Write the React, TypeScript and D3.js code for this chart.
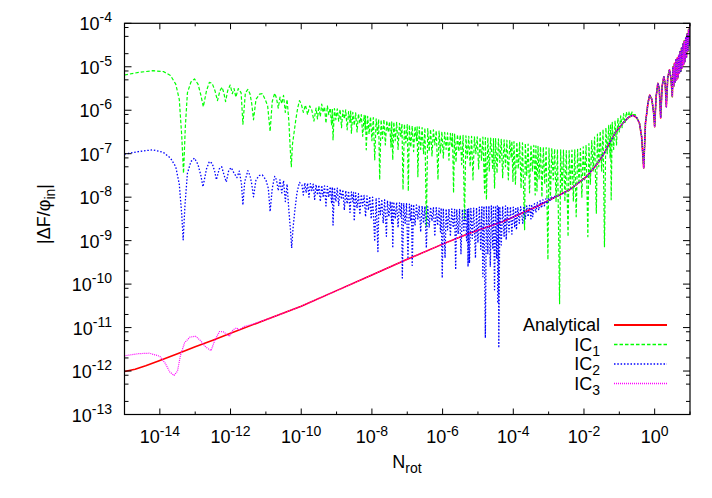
import React, { useRef, useEffect } from "react";
import * as d3 from "d3";

// every point is [log10 N_rot, log10 |dF/phi_in|]
type Pt = [number, number];

const analytical: Pt[] = [
  [-15.0, -12.01], [-14.7, -11.96], [-14.4, -11.88], [-14.0, -11.76], [-13.5, -11.6], [-13.0, -11.44],
  [-12.5, -11.29], [-12.0, -11.13], [-11.0, -10.82], [-10.0, -10.51], [-9.0, -10.15], [-8.0, -9.79],
  [-7.0, -9.43], [-6.0, -9.08], [-5.24, -8.83], [-4.29, -8.56], [-3.35, -8.22], [-2.41, -7.83],
  [-1.93, -7.53], [-1.65, -7.26], [-1.45, -7.02], [-1.28, -6.76], [-1.1, -6.5], [-0.9, -6.3],
  [-0.75, -6.17], [-0.61, -6.11], [-0.5, -6.18], [-0.43, -6.3], [-0.37, -6.6], [-0.31, -7.33],
  [-0.26, -6.3], [-0.19, -5.84], [-0.14, -5.65], [-0.08, -5.75], [-0.03, -6.05], [0.0, -6.38],
  [0.04, -5.7], [0.09, -5.38], [0.13, -5.5], [0.17, -6.18], [0.21, -5.45], [0.26, -5.23],
  [0.3, -5.4], [0.33, -5.92], [0.37, -5.25], [0.42, -5.07], [0.46, -5.25], [0.5, -5.69],
  [0.52, -5.0], [0.54, -5.45], [0.56, -4.92], [0.58, -5.35], [0.6, -4.84], [0.62, -5.3],
  [0.64, -4.8], [0.66, -5.25], [0.68, -4.74], [0.7, -5.15], [0.72, -4.65], [0.74, -5.1],
  [0.76, -4.57], [0.78, -5.02], [0.8, -4.48], [0.82, -4.95], [0.84, -4.4], [0.86, -4.88],
  [0.88, -4.33], [0.9, -4.78], [0.92, -4.24], [0.94, -4.65], [0.96, -4.14], [0.98, -4.5],
  [1.0, -4.02],
];

const ic1Early: Pt[] = [
  [-15.0, -5.19], [-14.6, -5.13], [-14.2, -5.09], [-13.9, -5.11], [-13.7, -5.2], [-13.55, -5.4],
  [-13.45, -5.75], [-13.38, -6.6], [-13.33, -7.45], [-13.28, -6.4], [-13.22, -5.6], [-13.12, -5.35],
  [-13.02, -5.28], [-12.92, -5.4], [-12.84, -5.65], [-12.77, -5.92], [-12.68, -5.55], [-12.6, -5.36],
  [-12.52, -5.38], [-12.44, -5.55], [-12.37, -5.78], [-12.3, -5.55], [-12.24, -5.47], [-12.19, -5.6],
  [-12.14, -5.8], [-12.08, -5.55], [-12.01, -5.42], [-11.95, -5.62], [-11.9, -5.5], [-11.85, -5.7],
  [-11.78, -5.5], [-11.7, -5.6], [-11.65, -6.32], [-11.58, -5.6], [-11.51, -5.52], [-11.45, -5.62],
  [-11.4, -5.85], [-11.35, -6.22], [-11.28, -5.75], [-11.18, -5.63], [-11.1, -5.62], [-11.02, -5.75],
  [-10.95, -5.9], [-10.88, -6.49], [-10.82, -5.8], [-10.75, -5.61], [-10.7, -5.72], [-10.65, -5.95],
  [-10.6, -5.7], [-10.55, -5.85], [-10.5, -5.66], [-10.45, -6.05], [-10.4, -5.75], [-10.35, -6.25],
  [-10.31, -6.9], [-10.28, -7.3], [-10.25, -6.8], [-10.2, -6.5], [-10.15, -6.2], [-10.1, -5.95],
  [-10.05, -5.78], [-10.0, -5.85], [-9.94, -6.05], [-9.88, -5.88], [-9.82, -6.1], [-9.76, -5.9],
  [-9.7, -6.0], [-9.64, -6.25], [-9.58, -5.95], [-9.54, -6.2],
];

const ic1Dense: Pt[] = [
  [-9.5, -5.9], [-9.46, -6.15], [-9.42, -5.86], [-9.38, -6.05], [-9.34, -5.92], [-9.3, -6.3],
  [-9.26, -5.9], [-9.22, -6.1], [-9.18, -5.95], [-9.14, -6.35], [-9.12, -5.97], [-9.1, -6.68],
  [-9.06, -5.96], [-9.02, -6.22], [-8.98, -5.97], [-8.94, -6.25], [-8.9, -5.98], [-8.86, -6.4],
  [-8.82, -6.0], [-8.78, -6.2], [-8.74, -5.99], [-8.7, -6.45], [-8.66, -6.03], [-8.62, -6.28],
  [-8.6, -6.02], [-8.58, -6.53], [-8.54, -6.05], [-8.5, -6.35], [-8.46, -6.06], [-8.42, -6.5],
  [-8.38, -6.08], [-8.34, -6.3], [-8.3, -6.1], [-8.26, -6.6], [-8.22, -6.12], [-8.19, -6.45],
  [-8.18, -6.13], [-8.16, -6.91], [-8.12, -6.14], [-8.08, -6.55], [-8.04, -6.15], [-8.0, -6.7],
  [-7.96, -6.17], [-7.92, -7.14], [-7.88, -6.2], [-7.84, -6.55], [-7.81, -6.21], [-7.78, -7.6],
  [-7.74, -6.22], [-7.7, -6.65], [-7.66, -6.21], [-7.62, -6.8], [-7.58, -6.24], [-7.54, -6.5],
  [-7.5, -6.26], [-7.46, -6.85], [-7.44, -6.27], [-7.41, -7.14], [-7.38, -6.27], [-7.34, -6.7],
  [-7.3, -6.28], [-7.26, -6.9], [-7.22, -6.3], [-7.18, -6.6], [-7.15, -6.31], [-7.12, -7.83],
  [-7.08, -6.32], [-7.04, -6.75], [-7.0, -6.33], [-6.97, -7.86], [-6.94, -6.34], [-6.9, -6.85],
  [-6.86, -6.36], [-6.82, -6.95], [-6.78, -6.37], [-6.74, -6.7], [-6.72, -6.38], [-6.7, -7.53],
  [-6.66, -6.38], [-6.62, -6.9], [-6.58, -6.4], [-6.54, -7.0], [-6.5, -6.41], [-6.46, -8.68],
  [-6.42, -6.42], [-6.38, -6.95], [-6.34, -6.44], [-6.3, -7.05], [-6.26, -6.45], [-6.22, -6.8],
  [-6.18, -6.47], [-6.13, -7.6], [-6.1, -6.48], [-6.06, -7.0], [-6.02, -6.49], [-5.98, -7.1],
  [-5.94, -6.51], [-5.9, -6.9], [-5.86, -6.52], [-5.82, -7.15], [-5.78, -6.53], [-5.74, -6.85],
  [-5.72, -6.54], [-5.69, -7.9], [-5.66, -6.55], [-5.62, -7.2], [-5.58, -6.56], [-5.54, -6.95],
  [-5.5, -6.57], [-5.46, -7.25], [-5.42, -6.58], [-5.38, -8.52], [-5.34, -6.59], [-5.3, -7.1],
  [-5.26, -6.6], [-5.22, -7.3], [-5.18, -6.6], [-5.14, -7.6], [-5.1, -6.61], [-5.06, -7.0],
  [-5.02, -6.61], [-4.98, -7.35], [-4.94, -6.62], [-4.9, -7.15], [-4.86, -6.62], [-4.81, -7.9],
  [-4.79, -6.63], [-4.76, -8.06], [-4.72, -6.63], [-4.68, -7.4], [-4.64, -6.64], [-4.58, -7.37],
  [-4.56, -6.65], [-4.53, -7.79], [-4.5, -6.65], [-4.46, -7.45], [-4.42, -6.66], [-4.38, -7.2],
  [-4.34, -6.67], [-4.3, -7.55], [-4.26, -6.68], [-4.22, -7.3], [-4.18, -6.69], [-4.14, -7.6],
  [-4.1, -6.7], [-4.06, -7.1], [-4.04, -6.71], [-4.01, -7.64], [-3.98, -6.72], [-3.94, -7.7],
  [-3.9, -6.73], [-3.86, -7.35], [-3.82, -6.74], [-3.78, -7.8], [-3.74, -6.75], [-3.68, -8.75],
  [-3.66, -6.76], [-3.62, -7.5], [-3.58, -6.78], [-3.54, -7.9], [-3.5, -6.8], [-3.46, -7.4],
  [-3.42, -6.81], [-3.38, -7.95], [-3.36, -6.82], [-3.33, -7.86], [-3.3, -6.83], [-3.27, -7.6],
  [-3.23, -6.84], [-3.19, -8.0], [-3.15, -6.85], [-3.11, -7.7], [-3.07, -6.86], [-3.02, -9.44],
  [-2.99, -6.87], [-2.95, -8.05], [-2.91, -6.88], [-2.87, -7.6], [-2.83, -6.89], [-2.79, -8.1],
  [-2.75, -6.9], [-2.69, -10.45], [-2.66, -6.91], [-2.62, -7.9], [-2.58, -6.92], [-2.54, -8.1],
  [-2.5, -6.93], [-2.45, -8.91], [-2.42, -6.93], [-2.38, -7.8], [-2.34, -6.92], [-2.3, -8.1],
  [-2.26, -6.91], [-2.22, -8.45], [-2.18, -6.9], [-2.14, -7.7], [-2.1, -6.88], [-2.06, -8.0],
  [-2.02, -6.84], [-1.98, -7.6], [-1.94, -6.8], [-1.89, -8.91], [-1.86, -6.77], [-1.82, -7.7],
  [-1.78, -6.7], [-1.74, -7.4], [-1.7, -6.62], [-1.65, -8.37], [-1.62, -6.55], [-1.58, -7.3],
  [-1.54, -6.48], [-1.5, -7.4], [-1.46, -6.44], [-1.42, -9.14], [-1.38, -6.4], [-1.34, -7.0],
  [-1.3, -6.35], [-1.26, -7.1], [-1.245, -6.32], [-1.23, -8.06], [-1.2, -6.28], [-1.16, -6.9],
  [-1.12, -6.24], [-1.08, -6.8], [-1.04, -6.18], [-1.0, -6.5], [-0.96, -6.13], [-0.92, -6.4],
  [-0.88, -6.08], [-0.84, -6.3], [-0.8, -6.04], [-0.76, -6.2], [-0.72, -6.03], [-0.68, -6.15],
  [-0.64, -6.04], [-0.6, -6.1], [-0.55, -6.1],
];

const ic2Early: Pt[] = [
  [-15.0, -7.01], [-14.6, -6.95], [-14.2, -6.91], [-13.9, -6.97], [-13.7, -7.1], [-13.55, -7.3],
  [-13.45, -7.7], [-13.38, -8.4], [-13.34, -8.98], [-13.29, -8.2], [-13.22, -7.45], [-13.12, -7.18],
  [-13.02, -7.1], [-12.92, -7.25], [-12.84, -7.5], [-12.78, -7.76], [-12.68, -7.35], [-12.6, -7.18],
  [-12.52, -7.22], [-12.45, -7.4], [-12.4, -7.6], [-12.32, -7.35], [-12.25, -7.3], [-12.18, -7.5],
  [-12.12, -7.65], [-12.05, -7.38], [-11.98, -7.32], [-11.9, -7.45], [-11.82, -7.55], [-11.75, -7.4],
  [-11.69, -7.7], [-11.65, -8.18], [-11.6, -7.65], [-11.51, -7.39], [-11.45, -7.5], [-11.4, -7.7],
  [-11.35, -7.99], [-11.28, -7.6], [-11.18, -7.5], [-11.1, -7.49], [-11.0, -7.6], [-10.93, -7.8],
  [-10.88, -8.33], [-10.82, -7.8], [-10.75, -7.52], [-10.7, -7.6], [-10.65, -7.85], [-10.6, -7.6],
  [-10.55, -7.9], [-10.5, -7.62], [-10.45, -8.1], [-10.4, -7.7], [-10.35, -8.3], [-10.3, -8.8],
  [-10.27, -9.17], [-10.23, -8.7], [-10.18, -8.3], [-10.12, -7.9], [-10.05, -7.66],
];

const ic2Dense: Pt[] = [
  [-9.98, -7.72], [-9.94, -7.95], [-9.9, -7.67], [-9.86, -7.9], [-9.82, -7.68], [-9.78, -8.0],
  [-9.74, -7.69], [-9.7, -7.85], [-9.66, -7.7], [-9.62, -8.05], [-9.58, -7.71], [-9.54, -7.95],
  [-9.5, -7.72], [-9.46, -8.1], [-9.42, -7.73], [-9.38, -7.98], [-9.34, -7.74], [-9.3, -8.2],
  [-9.26, -7.75], [-9.22, -8.0], [-9.18, -7.76], [-9.14, -8.15], [-9.12, -7.77], [-9.1, -8.64],
  [-9.06, -7.78], [-9.02, -8.1], [-8.98, -7.79], [-8.94, -8.2], [-8.9, -7.81], [-8.86, -8.05],
  [-8.82, -7.83], [-8.78, -8.3], [-8.74, -7.85], [-8.7, -8.15], [-8.66, -7.86], [-8.62, -8.35],
  [-8.58, -7.88], [-8.54, -8.1], [-8.52, -7.89], [-8.5, -8.55], [-8.46, -7.9], [-8.42, -8.25],
  [-8.38, -7.92], [-8.34, -8.4], [-8.3, -7.94], [-8.26, -8.2], [-8.22, -7.96], [-8.18, -8.45],
  [-8.14, -7.97], [-8.1, -8.3], [-8.06, -7.98], [-8.02, -8.5], [-7.98, -8.0], [-7.92, -9.02],
  [-7.88, -8.02], [-7.83, -9.25], [-7.8, -8.03], [-7.76, -8.4], [-7.72, -8.05], [-7.68, -8.6],
  [-7.64, -8.06], [-7.59, -8.9], [-7.56, -8.08], [-7.52, -8.45], [-7.48, -8.1], [-7.44, -8.6],
  [-7.43, -8.1], [-7.41, -9.17], [-7.38, -8.11], [-7.34, -8.5], [-7.3, -8.12], [-7.26, -8.7],
  [-7.22, -8.13], [-7.18, -8.45], [-7.16, -8.13], [-7.14, -9.86], [-7.1, -8.14], [-7.06, -8.6],
  [-7.02, -8.15], [-6.98, -9.42], [-6.94, -8.16], [-6.9, -8.55], [-6.88, -8.16], [-6.86, -9.57],
  [-6.82, -8.17], [-6.78, -8.65], [-6.74, -8.18], [-6.7, -8.5], [-6.66, -8.19], [-6.62, -8.8],
  [-6.58, -8.2], [-6.54, -8.6], [-6.5, -8.21], [-6.46, -9.17], [-6.42, -8.22], [-6.38, -8.7],
  [-6.34, -8.23], [-6.3, -8.55], [-6.26, -8.24], [-6.22, -8.9], [-6.18, -8.24], [-6.14, -8.65],
  [-6.1, -8.25], [-6.06, -8.8], [-6.04, -8.25], [-6.01, -9.86], [-5.98, -8.26], [-5.93, -9.4],
  [-5.9, -8.27], [-5.86, -8.75], [-5.82, -8.27], [-5.78, -8.9], [-5.74, -8.27], [-5.7, -8.7],
  [-5.66, -8.28], [-5.63, -9.67], [-5.6, -8.28], [-5.56, -8.85], [-5.52, -8.28], [-5.48, -9.3],
  [-5.44, -8.28], [-5.4, -8.8], [-5.36, -8.27], [-5.32, -9.0], [-5.3, -8.27], [-5.28, -9.6],
  [-5.26, -8.27], [-5.24, -9.52], [-5.2, -8.26], [-5.16, -8.95], [-5.12, -8.25], [-5.07, -9.4],
  [-5.04, -8.24], [-5.0, -9.05], [-4.96, -8.23], [-4.92, -9.2], [-4.89, -8.22], [-4.86, -9.83],
  [-4.83, -8.21], [-4.79, -11.24], [-4.76, -8.2], [-4.72, -9.3], [-4.69, -8.2], [-4.65, -9.6],
  [-4.62, -8.2], [-4.58, -9.2], [-4.56, -8.2], [-4.53, -10.13], [-4.5, -8.2], [-4.47, -9.4],
  [-4.45, -8.2], [-4.44, -10.44], [-4.42, -8.22], [-4.41, -11.47], [-4.38, -8.22], [-4.34, -9.1],
  [-4.3, -8.21], [-4.26, -8.9], [-4.22, -8.2], [-4.2, -8.98], [-4.16, -8.22], [-4.12, -8.8],
  [-4.08, -8.22], [-4.04, -8.85], [-4.0, -8.23], [-3.96, -8.7], [-3.93, -8.23], [-3.91, -8.75],
  [-3.87, -8.23], [-3.83, -8.6], [-3.79, -8.22], [-3.73, -8.6], [-3.7, -8.21], [-3.66, -8.5],
  [-3.62, -8.2], [-3.58, -8.45], [-3.54, -8.19], [-3.5, -8.5], [-3.48, -8.17], [-3.45, -8.45],
  [-3.4, -8.15], [-3.36, -8.35], [-3.32, -8.12], [-3.28, -8.3], [-3.24, -8.08], [-3.2, -8.25],
  [-3.16, -8.06], [-3.12, -8.2], [-3.08, -8.04], [-3.04, -8.15], [-3.0, -8.02], [-2.96, -8.1],
  [-2.92, -8.0], [-2.88, -8.05], [-2.84, -7.97], [-2.8, -8.01], [-2.75, -7.96], [-2.7, -7.96],
];

const ic3Early: Pt[] = [
  [-15.0, -11.65], [-14.6, -11.6], [-14.3, -11.59], [-14.0, -11.66], [-13.85, -11.82], [-13.72, -12.02],
  [-13.6, -12.1], [-13.5, -12.0], [-13.42, -11.65], [-13.3, -11.35], [-13.15, -11.22], [-12.99, -11.2],
  [-12.85, -11.3], [-12.7, -11.45], [-12.55, -11.53], [-12.45, -11.3], [-12.31, -11.09], [-12.2, -11.1],
  [-12.03, -11.2], [-11.93, -11.05], [-11.83, -11.01], [-11.75, -11.05], [-11.6, -10.97], [-11.45, -10.94],
  [-11.3, -10.9], [-11.15, -10.86],
];

const xTickExps = [-15, -14, -13, -12, -11, -10, -9, -8, -7, -6, -5, -4, -3, -2, -1, 0, 1];
const yTickExps = [-13, -12, -11, -10, -9, -8, -7, -6, -5, -4];
const yMinorMantissas = [2, 5, 8];

const legendNames = ["Analytical", "IC", "IC", "IC"];
const legendSubs = ["", "1", "2", "3"];

const App = () => {
  const ref = useRef<SVGSVGElement>(null);

  useEffect(() => {
    const svg = d3.select(ref.current);
    svg.selectAll("*").remove();

    const left = 124.5, right = 690, top = 23.3, bottom = 414.5;
    const font = "'Liberation Sans', Arial, Helvetica, sans-serif";

    const x = d3.scaleLog().domain([1e-15, 10]).range([left, right]);
    const y = d3.scaleLog().domain([1e-13, 1e-4]).range([bottom, top]);

    const line = d3
      .line<Pt>()
      .x((d) => x(10 ** d[0]))
      .y((d) => y(10 ** d[1]));

    svg
      .append("clipPath")
      .attr("id", "plotclip")
      .append("rect")
      .attr("x", left)
      .attr("y", top)
      .attr("width", right - left)
      .attr("height", bottom - top);

    const series = [
      { data: analytical, color: "#ff0000", dash: null, w: 1.6 },
      { data: [...ic1Early, ...ic1Dense, ...analytical.filter((d) => d[0] >= -0.5)], color: "#00ff00", dash: "3.5,2", w: 1.2 },
      { data: [...ic2Early, ...ic2Dense, ...analytical.filter((d) => d[0] >= -2.41)], color: "#0000ff", dash: "1.5,1.8", w: 1.3 },
      { data: [...ic3Early, ...analytical.filter((d) => d[0] >= -11)], color: "#ff00ff", dash: "1,1", w: 1.2 },
    ];

    const plot = svg.append("g").attr("clip-path", "url(#plotclip)");
    series.forEach((s) => {
      plot
        .append("path")
        .attr("d", line(s.data))
        .attr("fill", "none")
        .attr("stroke", s.color)
        .attr("stroke-width", s.w)
        .attr("stroke-dasharray", s.dash)
        .attr("stroke-linejoin", "round");
    });

    // frame
    svg
      .append("rect")
      .attr("x", left)
      .attr("y", top)
      .attr("width", right - left)
      .attr("height", bottom - top)
      .attr("fill", "none")
      .attr("stroke", "#000")
      .attr("stroke-width", 1.2);

    const ticks = svg.append("g").attr("stroke", "#000").attr("stroke-width", 1);

    xTickExps.forEach((e) => {
      const px = x(10 ** e);
      const len = e % 2 === 0 ? 6 : 3;
      ticks.append("line").attr("x1", px).attr("x2", px).attr("y1", bottom).attr("y2", bottom - len);
      ticks.append("line").attr("x1", px).attr("x2", px).attr("y1", top).attr("y2", top + len);
      if (e % 2 === 0 && e >= -14 && e <= 0) {
        const t = svg
          .append("text")
          .attr("x", px)
          .attr("y", 443)
          .attr("text-anchor", "middle")
          .attr("font-family", font)
          .attr("font-size", 18);
        t.append("tspan").text("10");
        t.append("tspan").attr("dy", -7).attr("font-size", 14).text(String(e));
      }
    });

    yTickExps.forEach((e) => {
      const py = y(10 ** e);
      ticks.append("line").attr("x1", left).attr("x2", left + 7).attr("y1", py).attr("y2", py);
      ticks.append("line").attr("x1", right).attr("x2", right - 7).attr("y1", py).attr("y2", py);
      const t = svg
        .append("text")
        .attr("x", 112)
        .attr("y", py + 7)
        .attr("text-anchor", "end")
        .attr("font-family", font)
        .attr("font-size", 18);
      t.append("tspan").text("10");
      t.append("tspan").attr("dy", -8).attr("font-size", 14).text(String(e));
      if (e < -4) {
        yMinorMantissas.forEach((m) => {
          const my = y(m * 10 ** e);
          ticks.append("line").attr("x1", left).attr("x2", left + 4).attr("y1", my).attr("y2", my);
          ticks.append("line").attr("x1", right).attr("x2", right - 4).attr("y1", my).attr("y2", my);
        });
      }
    });

    // axis titles
    const xt = svg
      .append("text")
      .attr("x", 407)
      .attr("y", 468)
      .attr("text-anchor", "middle")
      .attr("font-family", font)
      .attr("font-size", 18);
    xt.append("tspan").text("N");
    xt.append("tspan").attr("dy", 5).attr("font-size", 14).text("rot");

    const yt = svg
      .append("text")
      .attr("transform", "translate(50,214) rotate(-90)")
      .attr("text-anchor", "middle")
      .attr("font-family", font)
      .attr("font-size", 18);
    yt.append("tspan").text("|ΔF/φ");
    yt.append("tspan").attr("dy", 5).attr("font-size", 14).text("in");
    yt.append("tspan").attr("dy", -5).text("|");

    // legend
    const legTop = 325, legStep = 19.5;
    series.forEach((s, i) => {
      const ly = legTop + i * legStep;
      const t = svg
        .append("text")
        .attr("x", 600)
        .attr("y", ly + 6)
        .attr("text-anchor", "end")
        .attr("font-family", font)
        .attr("font-size", 18);
      t.append("tspan").text(legendNames[i]);
      if (legendSubs[i]) t.append("tspan").attr("dy", 5).attr("font-size", 14).text(legendSubs[i]);
      svg
        .append("line")
        .attr("x1", 614)
        .attr("x2", 667)
        .attr("y1", ly)
        .attr("y2", ly)
        .attr("stroke", s.color)
        .attr("stroke-width", i === 0 ? 2 : 1.5)
        .attr("stroke-dasharray", s.dash);
    });
  }, []);

  return (
    <svg
      ref={ref}
      width={712}
      height={498}
      style={{ position: "absolute", left: 0, top: 0, background: "#fff" }}
    />
  );
};

export default App;
